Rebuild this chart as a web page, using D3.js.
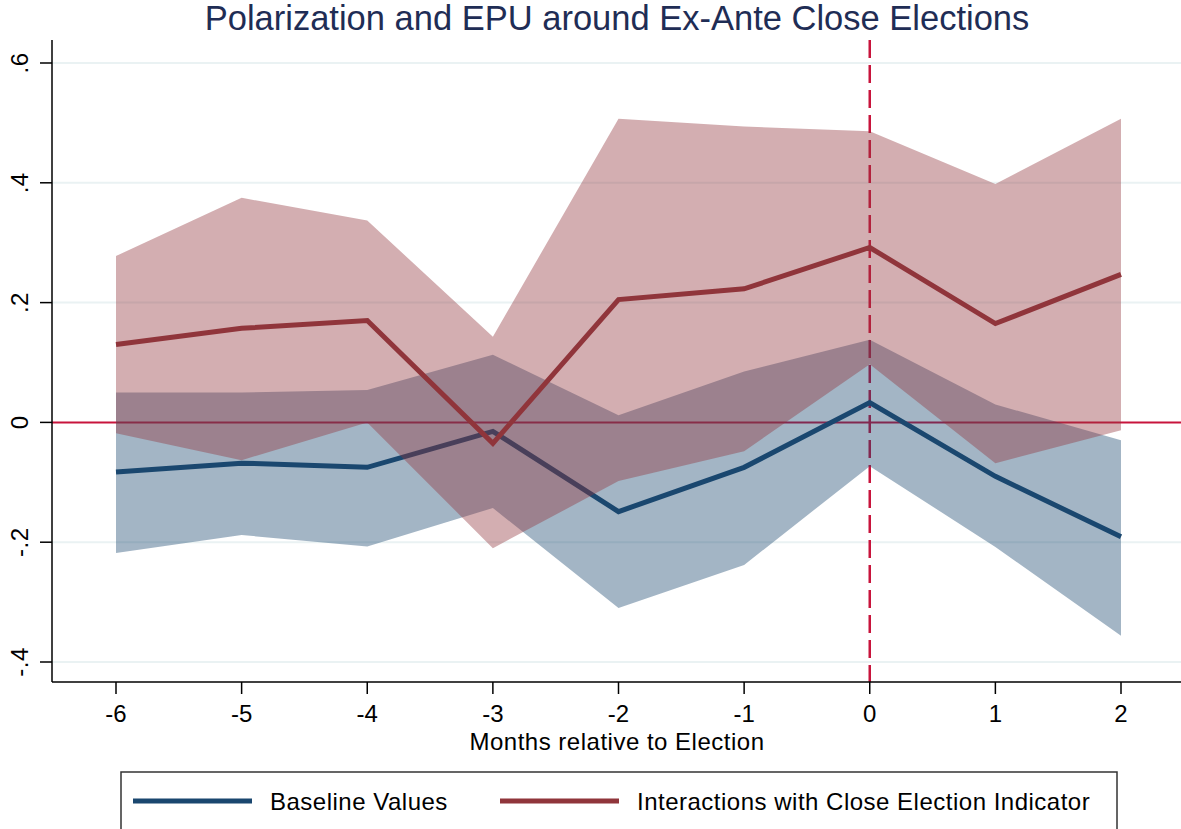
<!DOCTYPE html>
<html>
<head>
<meta charset="utf-8">
<script src="https://cdn.jsdelivr.net/npm/d3@7"></script>
<style>
  body { margin: 0; background: #fff; }
  svg { display: block; font-family: "Liberation Sans", Arial, sans-serif; }
</style>
</head>
<body>
<svg id="chart"></svg>
<script>
var width = 1181,
    height = 829;

// months relative to election
var months = [-6, -5, -4, -3, -2, -1, 0, 1, 2];

// baseline coefficients and 95% CI
var baseCoef = [-0.083, -0.068, -0.075, -0.015, -0.149, -0.075, 0.033, -0.090, -0.191];
var baseHi   = [0.050, 0.050, 0.054, 0.113, 0.012, 0.085, 0.138, 0.030, -0.030];
var baseLo   = [-0.218, -0.188, -0.207, -0.143, -0.310, -0.238, -0.073, -0.208, -0.356];

// interaction with close election indicator
var intCoef = [0.130, 0.157, 0.170, -0.035, 0.205, 0.223, 0.292, 0.165, 0.247];
var intHi   = [0.278, 0.375, 0.337, 0.143, 0.507, 0.494, 0.486, 0.398, 0.507];
var intLo   = [-0.018, -0.063, 0.000, -0.210, -0.098, -0.048, 0.097, -0.068, -0.013];

var yTicks = [-0.4, -0.2, 0, 0.2, 0.4, 0.6];
var yTickLabels = ["-.4", "-.2", "0", ".2", ".4", ".6"];
var seriesNames = ["Baseline Values", "Interactions with Close Election Indicator"];

var blue = "#1a476f",
    red = "#90353b",
    refRed = "#c8143c";

var svg = d3.select("#chart")
    .attr("width", width)
    .attr("height", height);

// plot region (note: "top" is reserved on window)
var pLeft = 52, pRight = 1181, pTop = 40, pBottom = 682;

var x = d3.scaleLinear().domain([-6, 2]).range([116, 1121]);
var y = d3.scaleLinear().domain([-0.4, 0.6]).range([662, 63]);

// title
svg.append("text")
    .attr("x", 617)
    .attr("y", 30)
    .attr("text-anchor", "middle")
    .style("font-size", "34.5px")
    .style("fill", "#1f2d55")
    .text("Polarization and EPU around Ex-Ante Close Elections");

// grid
svg.append("g").selectAll("line")
    .data(yTicks.filter(function(d) { return d != 0; }))
    .enter().append("line")
    .attr("x1", pLeft).attr("x2", pRight)
    .attr("y1", function(d) { return y(d); })
    .attr("y2", function(d) { return y(d); })
    .style("stroke", "#eaf2f3")
    .style("stroke-width", 2);

// reference lines
svg.append("line")
    .attr("x1", pLeft).attr("x2", pRight)
    .attr("y1", y(0)).attr("y2", y(0))
    .style("stroke", refRed)
    .style("stroke-width", 2);

svg.append("line")
    .attr("x1", x(0)).attr("x2", x(0))
    .attr("y1", pTop).attr("y2", pBottom)
    .style("stroke", refRed)
    .style("stroke-width", 2.5)
    .style("stroke-dasharray", "18,7");

var area = function(hi, lo) {
    return d3.area()
        .x(function(d, i) { return x(months[i]); })
        .y0(function(d, i) { return y(lo[i]); })
        .y1(function(d, i) { return y(hi[i]); })(months);
};
var line = function(vals) {
    return d3.line()
        .x(function(d, i) { return x(months[i]); })
        .y(function(d, i) { return y(vals[i]); })(months);
};

var plot = svg.append("g");

plot.append("path")
    .attr("d", area(baseHi, baseLo))
    .style("fill", blue)
    .style("fill-opacity", 0.4);

plot.append("path")
    .attr("d", line(baseCoef))
    .style("fill", "none")
    .style("stroke", blue)
    .style("stroke-width", 5);

plot.append("path")
    .attr("d", area(intHi, intLo))
    .style("fill", red)
    .style("fill-opacity", 0.4);

plot.append("path")
    .attr("d", line(intCoef))
    .style("fill", "none")
    .style("stroke", red)
    .style("stroke-width", 5);

// y axis
var yAxis = svg.append("g");
yAxis.append("line")
    .attr("x1", pLeft).attr("x2", pLeft)
    .attr("y1", pTop).attr("y2", pBottom)
    .style("stroke", "#000").style("stroke-width", 1.5);
yAxis.selectAll(".tick")
    .data(yTicks)
    .enter().append("line")
    .attr("x1", pLeft - 12).attr("x2", pLeft)
    .attr("y1", function(d) { return y(d); })
    .attr("y2", function(d) { return y(d); })
    .style("stroke", "#000").style("stroke-width", 1.5);
yAxis.selectAll("text")
    .data(yTicks)
    .enter().append("text")
    .attr("transform", function(d) { return "translate(28," + y(d) + ") rotate(-90)"; })
    .attr("text-anchor", "middle")
    .style("font-size", "24px")
    .style("letter-spacing", "0.5px")
    .text(function(d, i) { return yTickLabels[i]; });

// x axis
var xAxis = svg.append("g");
xAxis.append("line")
    .attr("x1", pLeft).attr("x2", pRight)
    .attr("y1", pBottom).attr("y2", pBottom)
    .style("stroke", "#000").style("stroke-width", 1.5);
xAxis.selectAll(".tick")
    .data(months)
    .enter().append("line")
    .attr("x1", function(d) { return x(d); })
    .attr("x2", function(d) { return x(d); })
    .attr("y1", pBottom).attr("y2", pBottom + 12)
    .style("stroke", "#000").style("stroke-width", 1.5);
xAxis.selectAll("text")
    .data(months)
    .enter().append("text")
    .attr("x", function(d) { return x(d); })
    .attr("y", 722)
    .attr("text-anchor", "middle")
    .style("font-size", "24px")
    .text(function(d) { return d; });

svg.append("text")
    .attr("x", 617)
    .attr("y", 750)
    .attr("text-anchor", "middle")
    .style("font-size", "24px")
    .style("letter-spacing", "0.5px")
    .text("Months relative to Election");

// legend
var legend = svg.append("g");
legend.append("rect")
    .attr("x", 121).attr("y", 772)
    .attr("width", 996).attr("height", 70)
    .style("fill", "#fff")
    .style("stroke", "#333")
    .style("stroke-width", 1.5);

var legX = [133, 500];
var legColors = [blue, red];
legend.selectAll(".key")
    .data(seriesNames)
    .enter().append("line")
    .attr("x1", function(d, i) { return legX[i]; })
    .attr("x2", function(d, i) { return legX[i] + 119; })
    .attr("y1", 801).attr("y2", 801)
    .style("stroke", function(d, i) { return legColors[i]; })
    .style("stroke-width", 5);
legend.selectAll("text")
    .data(seriesNames)
    .enter().append("text")
    .attr("x", function(d, i) { return legX[i] + 137; })
    .attr("y", 810)
    .style("font-size", "24px")
    .style("letter-spacing", "0.5px")
    .text(function(d) { return d; });
</script>
</body>
</html>
